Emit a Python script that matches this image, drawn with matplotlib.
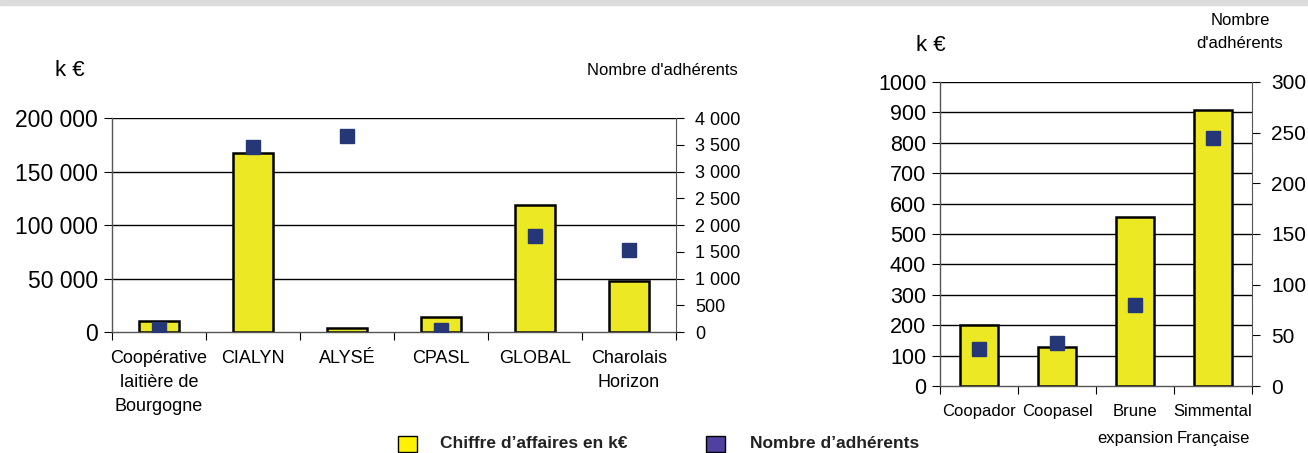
import numpy as np
import matplotlib
matplotlib.use("Agg")
import matplotlib.pyplot as plt
from matplotlib.patches import Rectangle

plt.rcParams['font.family'] = ['Liberation Sans', 'DejaVu Sans']

# left chart data
coops_l = ["Coopérative\nlaitière de\nBourgogne", "CIALYN", "ALYSÉ", "CPASL", "GLOBAL", "Charolais\nHorizon"]
ca_l = [10000, 167000, 4000, 14000, 119000, 48000]
adh_l = [50, 3450, 3660, 40, 1790, 1530]

# right chart data
coops_r = ["Coopador", "Coopasel", "Brune\nexpansion", "Simmental\nFrançaise"]
ca_r = [200, 128, 557, 908]
adh_r = [37, 42, 80, 245]

yellow = '#ECE824'
navy = '#263777'

fig = plt.figure(figsize=(13.08, 4.53), dpi=100)
fig.patches.append(Rectangle((0, 0.988), 1, 0.012, transform=fig.transFigure,
                             color='#DCDCDC', zorder=0))


def draw(ax, cats, ca, adh, ymax, ystep, rmax, rstep, lfmt, rfmt, lsize, rsize, xsize, bw, lsp, xpad):
    x = np.arange(len(cats))
    ax.set_xlim(-0.5, len(cats) - 0.5)
    ax.set_ylim(0, ymax)
    for gy in np.arange(ystep, ymax + 1, ystep):
        ax.axhline(gy, color='black', lw=1, zorder=0)
    ax.bar(x, ca, width=bw, color=yellow, edgecolor='black', lw=1.8, zorder=2)
    ax.set_yticks(np.arange(0, ymax + 1, ystep))
    ax.set_yticklabels([lfmt(v) for v in np.arange(0, ymax + 1, ystep)], fontsize=lsize)
    ax.set_xticks(np.arange(-0.5, len(cats), 1))
    ax.set_xticklabels([])
    ax.set_xticks(x, minor=True)
    ax.set_xticklabels(cats, minor=True, fontsize=xsize, linespacing=lsp)
    ax.tick_params(axis='x', which='minor', length=0, pad=xpad)
    ax.tick_params(axis='x', which='major', length=6, color='black')
    ax.tick_params(axis='y', length=6, pad=4)
    ax.spines['top'].set_visible(False)
    ax.spines['right'].set_visible(False)
    for s in ['left', 'bottom']:
        ax.spines[s].set_color('#555555')
        ax.spines[s].set_linewidth(1)
    ax2 = ax.twinx()
    ax2.set_ylim(0, rmax)
    ax2.plot(x, adh, 's', color=navy, ms=9.5, zorder=3, ls='none')
    ticks = np.arange(0, rmax + 1, rstep)
    ax2.set_yticks(ticks)
    ax2.set_yticklabels([rfmt(v) for v in ticks], fontsize=rsize)
    ax2.tick_params(axis='y', length=6, pad=8)
    for s in ['top', 'left', 'bottom']:
        ax2.spines[s].set_visible(False)
    ax2.spines['right'].set_color('#555555')
    return ax2


def sp(v):
    return f"{int(v):,}".replace(",", " ")


ax1 = fig.add_axes([0.0856, 0.2671, 0.4312, 0.4724])
draw(ax1, coops_l, ca_l, adh_l, 200000, 50000, 4000, 500, sp, sp, 16.5, 13, 13, 0.43, 1.55, 13)
fig.text(0.042, 0.845, "k €", fontsize=16, va='center')
fig.text(0.449, 0.845, "Nombre d'adhérents", fontsize=12, va='center')

ax3 = fig.add_axes([0.7187, 0.1479, 0.2385, 0.6711])
draw(ax3, coops_r, ca_r, adh_r, 1000, 100, 300, 50,
     lambda v: str(int(v)), lambda v: str(int(v)), 15.5, 15, 12, 0.49, 2.0, 13)
fig.text(0.700, 0.9, "k €", fontsize=16, va='center')
fig.text(0.948, 0.93, "Nombre\nd'adhérents", fontsize=12, ha='center', va='center', linespacing=1.7)

# legend
fig.patches.append(Rectangle((398 / 1308, 1 - 452 / 453), 19 / 1308, 16 / 453,
                             transform=fig.transFigure, facecolor='#FFF200', edgecolor='black', lw=1))
fig.text(440 / 1308, 1 - 443 / 453, "Chiffre d’affaires en k€", fontsize=12.5, fontweight='bold',
         va='center', color='#222222')
fig.patches.append(Rectangle((706 / 1308, 1 - 452 / 453), 19 / 1308, 16 / 453,
                             transform=fig.transFigure, facecolor='#5040A0', edgecolor='black', lw=1))
fig.text(750 / 1308, 1 - 443 / 453, "Nombre d’adhérents", fontsize=12.5, fontweight='bold',
         va='center', color='#222222')

fig.savefig('out.png', dpi=100)
